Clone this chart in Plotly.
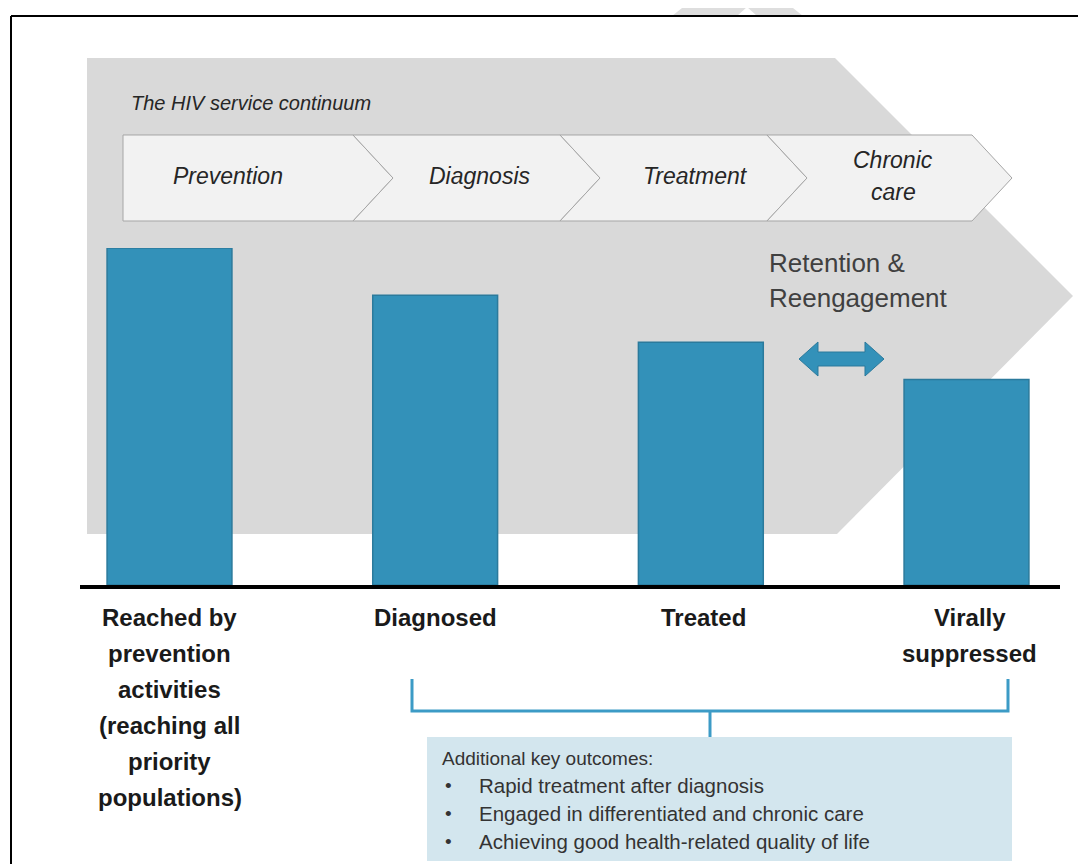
import plotly.graph_objects as go

# ---------------- data ----------------
categories = ["Reached by prevention activities", "Diagnosed", "Treated", "Virally suppressed"]
values = [100, 86, 72, 61]
category_label_lines = [
    ["Reached by", "prevention", "activities", "(reaching all", "priority", "populations)"],
    ["Diagnosed"],
    ["Treated"],
    ["Virally", "suppressed"],
]
continuum_title = "The HIV service continuum"
stages = [["Prevention"], ["Diagnosis"], ["Treatment"], ["Chronic", "care"]]
retention_lines = ["Retention &", "Reengagement"]
outcomes_title = "Additional key outcomes:"
outcomes = [
    "Rapid treatment after diagnosis",
    "Engaged in differentiated and chronic care",
    "Achieving good health-related quality of life",
]

# ---------------- helpers ----------------
# The page body has an 8px margin, so the figure covers reference pixels 8..1086 x 8..864
OFF = 8
W, H = 1086 - OFF, 864 - OFF
FONT = "Liberation Sans, Arial, sans-serif"


def px(x):
    return (x - OFF) / W


def py(y):
    return 1 - (y - OFF) / H


def path(points, close=True):
    s = "M " + " L ".join(f"{px(x):.5f},{py(y):.5f}" for x, y in points)
    return s + (" Z" if close else "")


BAR_FILL = "#3391b9"
BAR_LINE = "#2b7a9c"

fig = go.Figure()
fig.add_trace(go.Bar(
    x=categories, y=values, width=0.47,
    marker=dict(color=BAR_FILL, line=dict(color=BAR_LINE, width=1.5)),
    hoverinfo="skip", showlegend=False,
))

shapes = []
# faint watermark at top
shapes.append(dict(type="path", xref="paper", yref="paper", layer="below",
                   path=path([(692, 0), (783, 0), (803, 16), (672, 16)]),
                   fillcolor="#dedede", line=dict(width=0)))
shapes.append(dict(type="path", xref="paper", yref="paper", layer="below",
                   path=path([(747, 7), (757, 16), (737, 16)]),
                   fillcolor="#ffffff", line=dict(width=0)))
# frame
shapes.append(dict(type="line", xref="paper", yref="paper", layer="above",
                   x0=px(11), y0=py(16), x1=px(1090), y1=py(16),
                   line=dict(color="#000000", width=2)))
shapes.append(dict(type="line", xref="paper", yref="paper", layer="above",
                   x0=px(11), y0=py(16), x1=px(11), y1=py(870),
                   line=dict(color="#000000", width=2)))
# big grey arrow
shapes.append(dict(type="path", xref="paper", yref="paper", layer="below",
                   path=path([(87, 58), (835, 58), (1073, 296), (837, 534), (87, 534)]),
                   fillcolor="#d9d9d9", line=dict(width=0)))
# chevrons
CT, CB, CM, DEPTH = 135, 221, 178, 40
shapes.append(dict(type="path", xref="paper", yref="paper", layer="below",
                   path=path([(123, CT), (353, CT), (353 + DEPTH, CM), (353, CB), (123, CB)]),
                   fillcolor="#f2f2f2", line=dict(color="#a6a6a6", width=1)))
for L, R in [(353, 560), (560, 767), (767, 972)]:
    shapes.append(dict(type="path", xref="paper", yref="paper", layer="below",
                       path=path([(L, CT), (R, CT), (R + DEPTH, CM), (R, CB), (L, CB), (L + DEPTH, CM)]),
                       fillcolor="#f2f2f2", line=dict(color="#a6a6a6", width=1)))
# double arrow
shapes.append(dict(type="path", xref="paper", yref="paper", layer="above",
                   path=path([(799, 359), (818, 342), (818, 352), (865, 352), (865, 342),
                              (884, 359), (865, 376), (865, 366), (818, 366), (818, 376)]),
                   fillcolor=BAR_FILL, line=dict(color=BAR_LINE, width=1)))
# baseline
shapes.append(dict(type="line", xref="paper", yref="paper", layer="above",
                   x0=px(80), y0=py(587), x1=px(1060), y1=py(587),
                   line=dict(color="#000000", width=4)))
# bracket
BR = "#3c9bc6"
shapes.append(dict(type="path", xref="paper", yref="paper", layer="above",
                   path=path([(412, 679), (412, 711), (1008, 711), (1008, 679)], close=False),
                   line=dict(color=BR, width=3)))
shapes.append(dict(type="line", xref="paper", yref="paper", layer="above",
                   x0=px(710), y0=py(711), x1=px(710), y1=py(737),
                   line=dict(color=BR, width=3)))
# outcomes box
shapes.append(dict(type="rect", xref="paper", yref="paper", layer="below",
                   x0=px(427), y0=py(737), x1=px(1012), y1=py(861),
                   fillcolor="#d3e6ee", line=dict(width=0)))

annotations = []
# continuum title
annotations.append(dict(xref="paper", yref="paper", x=px(129), y=py(103),
                        xanchor="left", yanchor="middle", showarrow=False,
                        text=f"<i>{continuum_title}</i>",
                        font=dict(family=FONT, size=20, color="#262626")))
# stage labels
stage_centers = [228, 479, 695, 893]
for cx, lines in zip(stage_centers, stages):
    n = len(lines)
    for i, t in enumerate(lines):
        yy = 176 + (i - (n - 1) / 2) * 32
        annotations.append(dict(xref="paper", yref="paper", x=px(cx), y=py(yy),
                                xanchor="center", yanchor="middle", showarrow=False,
                                text=f"<i>{t}</i>",
                                font=dict(family=FONT, size=23, color="#262626")))
# retention text
for i, t in enumerate(retention_lines):
    annotations.append(dict(xref="paper", yref="paper", x=px(767), y=py(263 + 35 * i),
                            xanchor="left", yanchor="middle", showarrow=False, text=t,
                            font=dict(family=FONT, size=26, color="#404040")))
# category labels
label_shift = [0, 0, 3, 3]
for cat, lines, sh in zip(categories, category_label_lines, label_shift):
    for i, t in enumerate(lines):
        annotations.append(dict(xref="x", yref="paper", x=cat, y=py(617 + 36 * i),
                                xanchor="center", yanchor="middle", showarrow=False,
                                xshift=sh, text=f"<b>{t}</b>",
                                font=dict(family=FONT, size=24, color="#1a1a1a")))
# outcomes
annotations.append(dict(xref="paper", yref="paper", x=px(440), y=py(758),
                        xanchor="left", yanchor="middle", showarrow=False, text=outcomes_title,
                        font=dict(family=FONT, size=19, color="#333333")))
for i, t in enumerate(outcomes):
    yy = 785 + 28 * i
    annotations.append(dict(xref="paper", yref="paper", x=px(443), y=py(yy),
                            xanchor="left", yanchor="middle", showarrow=False, text="•",
                            font=dict(family=FONT, size=19, color="#333333")))
    annotations.append(dict(xref="paper", yref="paper", x=px(477), y=py(yy),
                            xanchor="left", yanchor="middle", showarrow=False, text=t,
                            font=dict(family=FONT, size=20.5, color="#333333")))

# bar axis calibrated so that bar centres land at reference x = 169.5, 435.5, 700.5, 966.5
UNIT = (966.5 - 169.5) / 3
X0 = -(169.5 - OFF) / UNIT
X1 = X0 + W / UNIT
BASE_Y, TOP_Y = 585, 248
fig.update_layout(
    width=W, height=H, autosize=False,
    margin=dict(l=0, r=0, t=0, b=0, pad=0),
    paper_bgcolor="#ffffff", plot_bgcolor="rgba(0,0,0,0)",
    shapes=shapes, annotations=annotations,
    xaxis=dict(domain=[0, 1], range=[X0, X1], visible=False, fixedrange=True),
    yaxis=dict(domain=[py(BASE_Y), py(TOP_Y)], range=[0, 100],
               visible=False, fixedrange=True),
    bargap=0, showlegend=False, hovermode=False,
)

fig.write_html("out.html", config=dict(displayModeBar=False, staticPlot=True))
